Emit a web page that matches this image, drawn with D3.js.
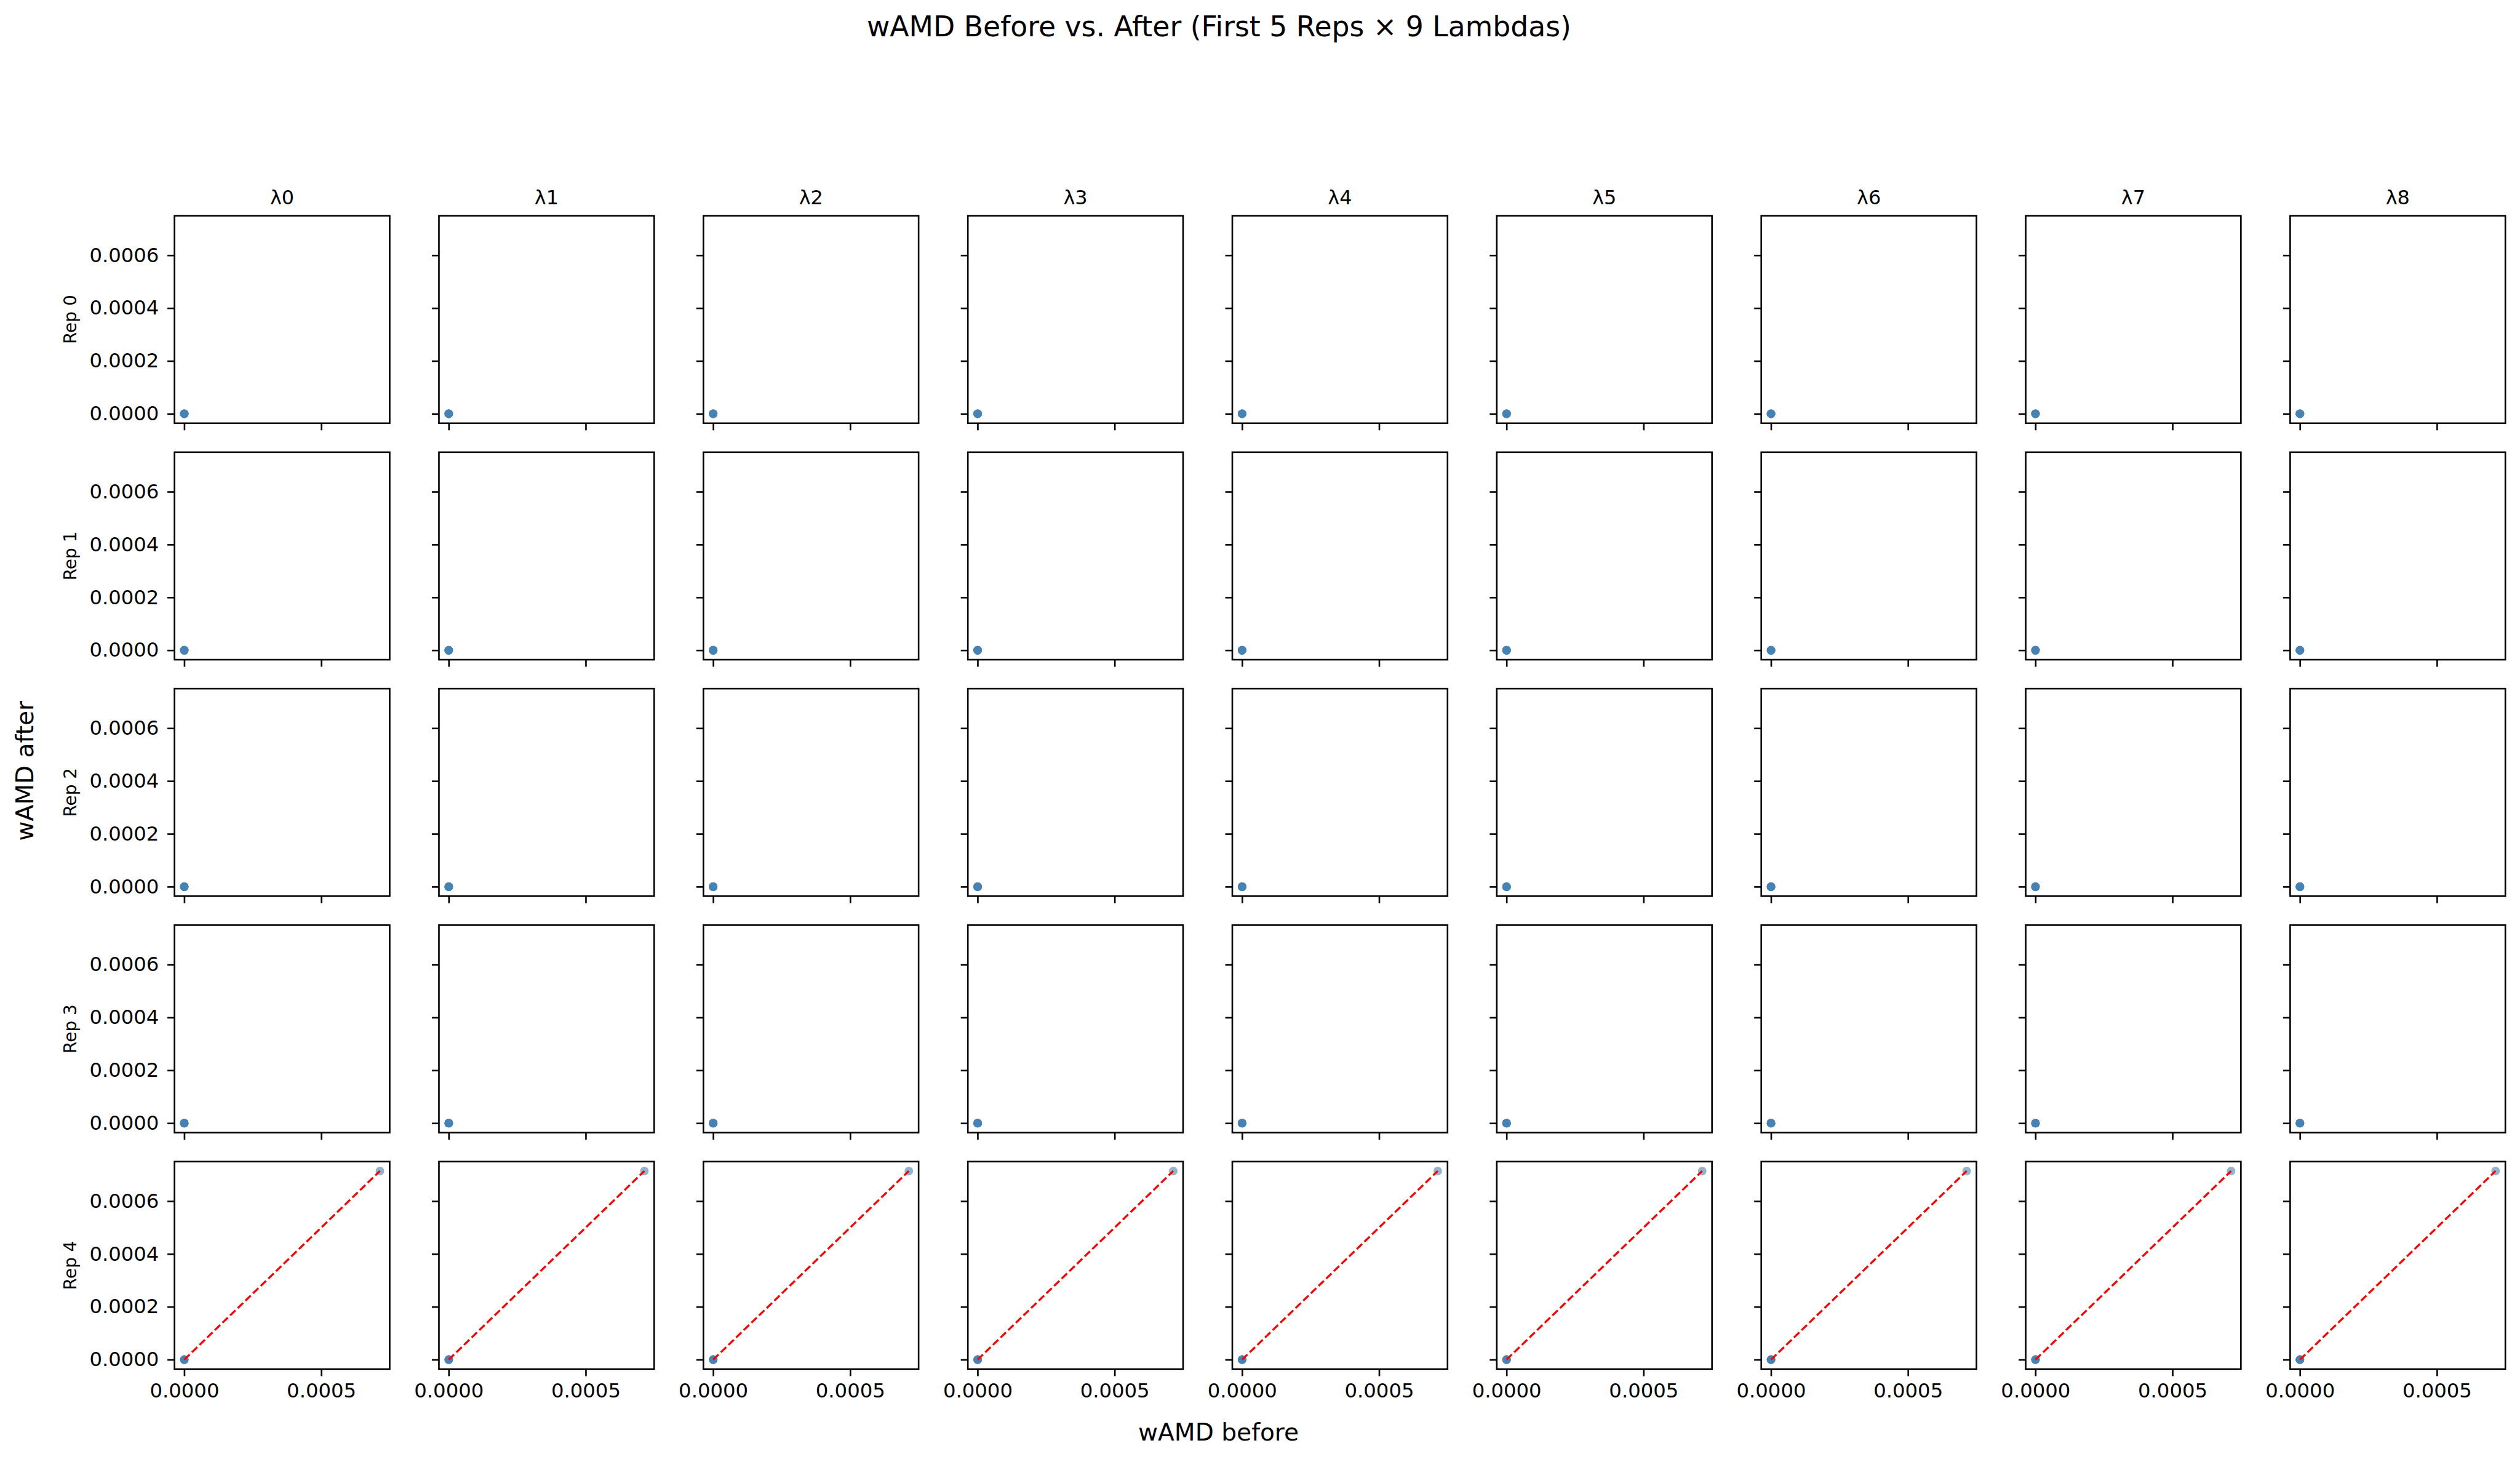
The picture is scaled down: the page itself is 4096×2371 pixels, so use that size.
<!DOCTYPE html>
<html>
<head>
<meta charset="utf-8">
<script src="https://cdn.jsdelivr.net/npm/d3@7"></script>
<style>
  html, body { margin: 0; padding: 0; background: #ffffff; }
  svg { display: block; }
</style>
</head>
<body>
<script>
// ---------------- data ----------------
const chartTitle = "wAMD Before vs. After (First 5 Reps × 9 Lambdas)";
const xAxisLabel = "wAMD before";
const yAxisLabel = "wAMD after";
const repLabels = ["Rep 0", "Rep 1", "Rep 2", "Rep 3", "Rep 4"];
const lambdaLabels = ["λ0", "λ1", "λ2", "λ3", "λ4", "λ5", "λ6", "λ7", "λ8"];
// wAMD per covariate for each rep (identical across the 9 lambdas)
const wamdBefore = [
  [0, 0, 0, 0, 0, 0],
  [0, 0, 0, 0, 0, 0],
  [0, 0, 0, 0, 0, 0],
  [0, 0, 0, 0, 0, 0],
  [0, 0, 0, 0, 0, 0.000714]
];
const wamdAfter = [
  [0, 0, 0, 0, 0, 0],
  [0, 0, 0, 0, 0, 0],
  [0, 0, 0, 0, 0, 0],
  [0, 0, 0, 0, 0, 0],
  [0, 0, 0, 0, 0, 0.000714]
];
const xTickValues = [0, 0.0005];
const yTickValues = [0, 0.0002, 0.0004, 0.0006];

// ---------------- layout (reference pixel units) ----------------
const REF_W = 5199, REF_H = 3010;
const OUT_W = 4096, OUT_H = 2371;
const S = OUT_W / REF_W;

const colLeft0 = 360, colPitch = 545.6, panelW = 444;
const rowTop0 = 445, rowPitch = 487.75, panelH = 428;
const spineW = 3.3, tickLen = 14.6, tickW = 3.3;
const FONT = "DejaVu Sans";
const tickFont = 41, titleFont = 58, supFont = 49.7, repFont = 35.5, colFont = 40.5;

const svg = d3.select("body").append("svg")
  .attr("width", OUT_W).attr("height", OUT_H)
  .attr("viewBox", `0 0 ${OUT_W} ${OUT_H}`);
svg.append("rect").attr("width", OUT_W).attr("height", OUT_H).attr("fill", "#ffffff");
const root = svg.append("g").attr("transform", `scale(${S})`);

// shared domain with matplotlib-style 5% margins
const allVals = wamdBefore.flat().concat(wamdAfter.flat());
const lo = d3.min(allVals), hi = d3.max(allVals);
const pad = 0.05 * (hi - lo);
const domain = [lo - pad, hi + pad];

const fmt = d3.format(".4f");

repLabels.forEach((rep, i) => {
  lambdaLabels.forEach((lam, j) => {
    const gx = colLeft0 + j * colPitch;
    const gy = rowTop0 + i * rowPitch;
    const g = root.append("g").attr("transform", `translate(${gx},${gy})`);

    const x = d3.scaleLinear().domain(domain).range([0, panelW]);
    const y = d3.scaleLinear().domain(domain).range([panelH, 0]);

    // y axis
    const ya = g.append("g")
      .call(d3.axisLeft(y).tickValues(yTickValues).tickSize(tickLen).tickPadding(17.4)
        .tickFormat(j === 0 ? fmt : () => ""));
    ya.select(".domain").remove();
    ya.attr("font-family", FONT).attr("font-size", tickFont);
    ya.selectAll(".tick line").attr("stroke", "#000").attr("stroke-width", tickW);
    ya.selectAll(".tick text").attr("fill", "#000");

    // x axis
    const xa = g.append("g").attr("transform", `translate(0,${panelH})`)
      .call(d3.axisBottom(x).tickValues(xTickValues).tickSize(tickLen).tickPadding(14.4)
        .tickFormat(i === repLabels.length - 1 ? fmt : () => ""));
    xa.select(".domain").remove();
    xa.attr("font-family", FONT).attr("font-size", tickFont);
    xa.selectAll(".tick line").attr("stroke", "#000").attr("stroke-width", tickW);
    xa.selectAll(".tick text").attr("fill", "#000");

    // points
    const pts = wamdBefore[i].map((b, k) => ({ b, a: wamdAfter[i][k] }));
    g.append("g").selectAll("circle").data(pts).join("circle")
      .attr("cx", d => x(d.b)).attr("cy", d => y(d.a)).attr("r", 8.8)
      .attr("fill", "steelblue").attr("fill-opacity", 0.6);

    // y = x reference line over the data range of the panel
    const pLo = Math.min(d3.min(wamdBefore[i]), d3.min(wamdAfter[i]));
    const pHi = Math.max(d3.max(wamdBefore[i]), d3.max(wamdAfter[i]));
    const line = d3.line().x(d => x(d)).y(d => y(d));
    g.append("path").datum([pLo, pHi]).attr("d", line)
      .attr("fill", "none").attr("stroke", "red").attr("stroke-width", 4.2)
      .attr("stroke-dasharray", "15.3,6.6");

    // spines
    g.append("rect").attr("x", 0).attr("y", 0).attr("width", panelW).attr("height", panelH)
      .attr("fill", "none").attr("stroke", "#000").attr("stroke-width", spineW);

    // column titles
    if (i === 0) {
      g.append("text").attr("x", panelW / 2).attr("y", -24)
        .attr("text-anchor", "middle").attr("font-family", FONT).attr("font-size", colFont)
        .attr("fill", "#000").text(lam);
    }
  });
  // row labels
  const cy = rowTop0 + i * rowPitch + panelH / 2;
  root.append("text").attr("transform", `translate(157,${cy}) rotate(-90)`)
    .attr("text-anchor", "middle").attr("font-family", FONT).attr("font-size", repFont)
    .attr("fill", "#000").text(rep);
});

// super title and axis labels
root.append("text").attr("x", 2515).attr("y", 75).attr("text-anchor", "middle")
  .attr("font-family", FONT).attr("font-size", titleFont).attr("fill", "#000").text(chartTitle);
root.append("text").attr("x", 2514).attr("y", 2972).attr("text-anchor", "middle")
  .attr("font-family", FONT).attr("font-size", supFont).attr("fill", "#000").text(xAxisLabel);
root.append("text").attr("transform", "translate(68,1590) rotate(-90)").attr("text-anchor", "middle")
  .attr("font-family", FONT).attr("font-size", supFont).attr("fill", "#000").text(yAxisLabel);
</script>
</body>
</html>
